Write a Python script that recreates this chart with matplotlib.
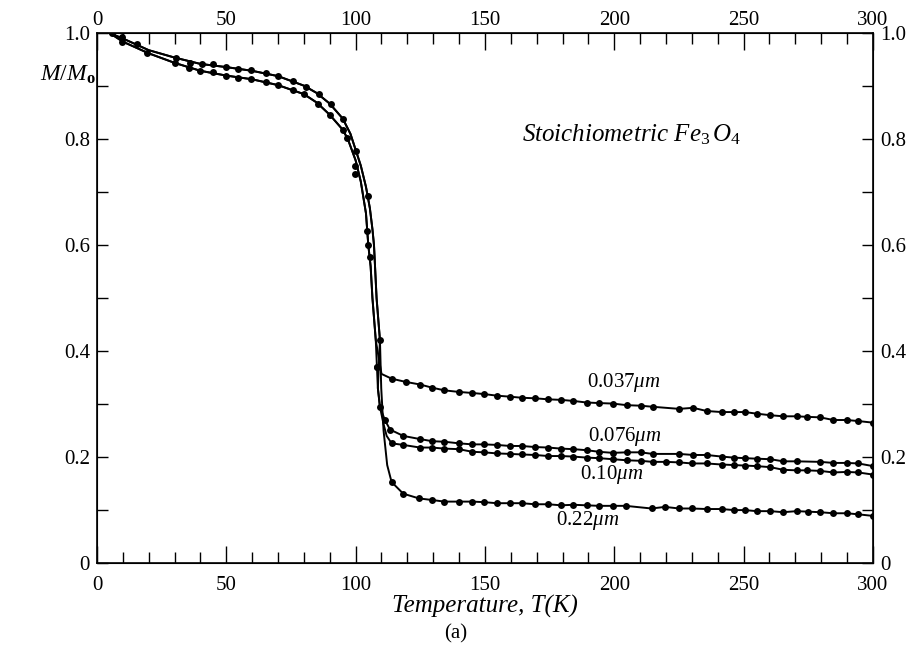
"""Magnetisation vs temperature for stoichiometric Fe3O4 particles of several sizes."""

import matplotlib

matplotlib.use("Agg")
import matplotlib.pyplot as plt
from matplotlib.ticker import MultipleLocator

plt.rcParams["font.family"] = ["Liberation Serif", "DejaVu Serif"]
plt.rcParams["mathtext.fontset"] = "custom"
plt.rcParams["mathtext.rm"] = "Liberation Serif"
plt.rcParams["mathtext.it"] = "Liberation Serif:italic"
plt.rcParams["mathtext.bf"] = "Liberation Serif:bold"

# low-temperature dots, upper (A) and lower (B) branches
dots_a_t = [5.7, 9.8, 15.3, 30.5, 36.0, 40.5, 44.7, 49.7, 54.4, 59.5, 65.2, 69.8,
            75.9, 80.8, 85.8, 90.4, 95.2, 100.1, 104.9, 109.4]
dots_a_m = [1.0, 0.992, 0.979, 0.954, 0.944, 0.941, 0.941, 0.936, 0.933, 0.930, 0.924,
            0.920, 0.909, 0.899, 0.885, 0.866, 0.839, 0.777, 0.692, 0.421]
dots_b_t = [9.8, 19.4, 30.1, 35.7, 39.8, 44.7, 49.7, 54.4, 59.5, 65.2, 69.8, 75.9,
            80.0, 85.6, 90.2, 95.2, 96.7, 99.8, 99.8, 104.3, 104.9, 105.5, 108.1,
            109.4, 111.3]
dots_b_m = [0.984, 0.963, 0.944, 0.935, 0.928, 0.926, 0.920, 0.916, 0.913, 0.908,
            0.902, 0.892, 0.885, 0.867, 0.845, 0.818, 0.803, 0.749, 0.735, 0.626,
            0.600, 0.578, 0.370, 0.295, 0.270]

# fitted curves (low-T part, through the transition)
curve_a_t = [5, 10, 15, 20, 30, 40, 50, 60, 70, 80, 85, 90, 95, 98, 100, 102, 104,
             105.5, 106.5, 107.1, 108.1, 109.4]
curve_a_m = [1.0, 0.990, 0.979, 0.968, 0.954, 0.942, 0.936, 0.929, 0.919, 0.901,
             0.887, 0.867, 0.839, 0.810, 0.780, 0.750, 0.710, 0.670, 0.630, 0.600,
             0.500, 0.421]
curve_b_t = [5, 10, 20, 30, 40, 50, 60, 70, 80, 85, 90, 95, 97, 100, 102, 104,
             104.9, 105.8, 106.5, 107.8]
curve_b_m = [1.0, 0.984, 0.962, 0.944, 0.929, 0.920, 0.913, 0.902, 0.885, 0.869,
             0.846, 0.818, 0.800, 0.760, 0.720, 0.660, 0.600, 0.560, 0.500, 0.420]

# high-temperature dots per particle size
t_037 = [108.1, 113.9, 119.3, 124.9, 129.6, 134.3, 139.9, 145.1, 149.6, 154.5, 159.7,
         164.2, 169.3, 174.5, 179.4, 184.2, 189.3, 194.1, 199.4, 204.8, 210.2, 214.8,
         225.1, 230.5, 235.7, 241.5, 246.2, 250.5, 255.0, 260.4, 265.3, 270.5, 274.4,
         279.6, 284.7, 289.9, 294.4, 300.0]
m_037 = [0.370, 0.348, 0.342, 0.337, 0.331, 0.326, 0.323, 0.321, 0.319, 0.316, 0.314,
         0.312, 0.311, 0.309, 0.308, 0.306, 0.303, 0.302, 0.301, 0.298, 0.297, 0.295,
         0.291, 0.293, 0.287, 0.285, 0.285, 0.285, 0.282, 0.279, 0.277, 0.277, 0.276,
         0.275, 0.270, 0.270, 0.268, 0.265]

t_076 = [113.3, 118.4, 124.9, 129.6, 134.3, 139.9, 145.1, 149.6, 154.5, 159.7, 164.2,
         169.3, 174.5, 179.4, 184.2, 189.3, 194.1, 199.4, 204.8, 210.2, 214.8, 225.1,
         230.5, 235.7, 241.5, 246.2, 250.5, 255.0, 260.4, 265.3, 270.5, 279.6, 284.7,
         289.9, 294.4, 300.0]
m_076 = [0.252, 0.240, 0.234, 0.230, 0.229, 0.226, 0.224, 0.224, 0.223, 0.221, 0.221,
         0.219, 0.218, 0.216, 0.215, 0.213, 0.210, 0.208, 0.209, 0.209, 0.206, 0.206,
         0.204, 0.204, 0.201, 0.199, 0.198, 0.197, 0.196, 0.192, 0.192, 0.191, 0.189,
         0.189, 0.188, 0.183]

t_10 = [113.9, 118.4, 124.9, 129.6, 134.3, 139.9, 145.1, 149.6, 154.5, 159.7, 164.2,
        169.3, 174.5, 179.4, 184.2, 189.3, 194.1, 199.4, 204.8, 210.2, 214.8, 220.0,
        225.1, 230.0, 235.7, 241.5, 246.2, 250.5, 255.0, 260.4, 265.3, 270.5, 274.4,
        279.6, 284.7, 289.9, 294.4, 300.0]
m_10 = [0.226, 0.223, 0.218, 0.218, 0.216, 0.215, 0.210, 0.209, 0.207, 0.206, 0.205,
        0.204, 0.202, 0.202, 0.201, 0.199, 0.198, 0.196, 0.194, 0.193, 0.191, 0.191,
        0.190, 0.188, 0.188, 0.186, 0.185, 0.184, 0.183, 0.181, 0.176, 0.175, 0.175,
        0.174, 0.171, 0.172, 0.171, 0.167]

t_22 = [113.9, 118.4, 124.5, 129.6, 134.3, 139.9, 145.1, 149.6, 154.5, 159.7, 164.2,
        169.3, 174.5, 179.4, 184.2, 189.3, 194.1, 199.4, 204.4, 214.4, 219.6, 225.1,
        230.0, 235.7, 241.5, 246.2, 250.5, 255.0, 260.4, 265.3, 270.5, 275.0, 279.6,
        284.7, 289.9, 294.4, 300.0]
m_22 = [0.153, 0.131, 0.122, 0.119, 0.116, 0.116, 0.116, 0.115, 0.113, 0.113, 0.113,
        0.111, 0.111, 0.109, 0.110, 0.109, 0.108, 0.108, 0.108, 0.103, 0.106, 0.103,
        0.103, 0.102, 0.102, 0.100, 0.100, 0.098, 0.098, 0.096, 0.098, 0.097, 0.096,
        0.094, 0.094, 0.092, 0.089]

# line segments joining low-T curves to each branch
join_037_t, join_037_m = [108.1, 110.0], [0.370, 0.357]
join_076_t, join_076_m = [108.6, 109.4, 111.3], [0.330, 0.295, 0.270]
join_10_t, join_10_m = [108.6, 109.4, 110.8, 112.0], [0.330, 0.295, 0.262, 0.240]
join_22_t, join_22_m = [109.9, 110.8, 112.2], [0.330, 0.250, 0.185]

size_labels = ["0.037\\mu m", "0.076\\mu m", "0.10\\mu m", "0.22\\mu m"]
label_t = [203.7, 204.1, 199.1, 189.8]
label_m = [0.340, 0.238, 0.168, 0.080]

fig = plt.figure(figsize=(9.15, 6.64), dpi=100)
ax = fig.add_axes([0.106, 0.152, 0.848, 0.798])

lines = [
    (curve_b_t + join_037_t[1:] + t_037[1:], curve_b_m + join_037_m[1:] + m_037[1:]),
    (curve_b_t + join_076_t + t_076, curve_b_m + join_076_m + m_076),
    (curve_a_t + join_10_t + t_10, curve_a_m + join_10_m + m_10),
    (curve_a_t + join_22_t + t_22, curve_a_m + join_22_m + m_22),
]
for lt, lm in lines:
    ax.plot(lt, lm, color="black", lw=1.4)

for dt, dm in [(dots_a_t, dots_a_m), (dots_b_t, dots_b_m), (t_037, m_037),
               (t_076, m_076), (t_10, m_10), (t_22, m_22)]:
    ax.plot(dt, dm, "o", color="black", ms=5.0, mew=0)

for txt, x, y in zip(size_labels, label_t, label_m):
    ax.text(x, y, "$\\mathit{" + txt + "}$", ha="center", va="center", fontsize=15)

ax.text(164.3, 0.808, r"$\mathit{Stoichiometric\ Fe_3\,O_4}$",
        ha="left", va="center", fontsize=18)

ax.set_xlim(0, 300)
ax.set_ylim(0, 1.0)
ax.xaxis.set_major_locator(MultipleLocator(50))
ax.xaxis.set_minor_locator(MultipleLocator(10))
ax.yaxis.set_major_locator(MultipleLocator(0.2))
ax.yaxis.set_minor_locator(MultipleLocator(0.1))
ax.yaxis.set_major_formatter(
    plt.FuncFormatter(lambda v, p: "0" if abs(v) < 1e-9 else f"{v:.1f}"))

ax.tick_params(axis="both", which="both", direction="in", right=True,
               labelright=True, labelsize=15, width=1.0)
ax.tick_params(axis="x", which="major", length=12, pad=9)
ax.tick_params(axis="x", which="minor", length=8)
ax.tick_params(axis="y", which="both", length=8, pad=5)
for s in ax.spines.values():
    s.set_linewidth(1.2)

# top temperature scale with its own, tighter label spacing
top = ax.twiny()
top.set_xlim(ax.get_xlim())
top.xaxis.set_major_locator(MultipleLocator(50))
top.xaxis.set_minor_locator(MultipleLocator(10))
top.tick_params(axis="x", which="both", direction="in", labelsize=15, width=1.0)
top.tick_params(axis="x", which="major", length=12, pad=2)
top.tick_params(axis="x", which="minor", length=8)

ax.set_xlabel("Temperature, T(K)", fontsize=18, style="italic", labelpad=0)
fig.text(0.044, 0.887, r"$\mathbf{\mathit{M/M}}_{\mathbf{o}}$", fontsize=17,
         ha="left", va="center")
fig.text(0.498, 0.046, "(a)", fontsize=15, ha="center", va="center")

fig.savefig("out.png", dpi=100)
